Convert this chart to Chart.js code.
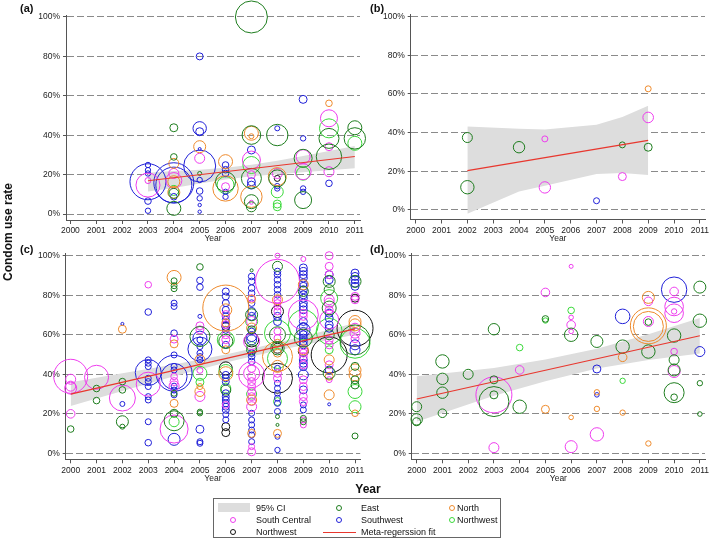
<!DOCTYPE html>
<html>
<head>
<meta charset="utf-8">
<script src="https://cdn.jsdelivr.net/npm/chart.js@4.4.1/dist/chart.umd.min.js"></script>
<style>
  body { margin: 0; background: #fff; width: 710px; height: 540px; overflow: hidden; position: relative;
         font-family: "Liberation Sans", Arial, sans-serif; color: #111; }
  canvas { position: absolute; }
  .tag { position: absolute; font-weight: bold; font-size: 11px; }
  .ytitle { position: absolute; left: 8px; top: 232px; font-weight: bold; font-size: 12px; white-space: nowrap;
            transform: translate(-50%, -50%) rotate(-90deg); }
  .xtitle { position: absolute; left: 368px; top: 489px; font-weight: bold; font-size: 12px; transform: translate(-50%, -50%); }
  #legend { position: absolute; left: 213px; top: 498px; width: 288px; height: 40px; border: 1px solid #666; box-sizing: border-box; }
  .lt { position: absolute; font-size: 9px; transform: translateY(-50%); white-space: nowrap; }
  .lc { position: absolute; width: 4px; height: 4px; border-radius: 50%; border: 1px solid; transform: translate(-50%, -50%); }
</style>
</head>
<body>
<canvas id="pa"></canvas>
<canvas id="pb"></canvas>
<canvas id="pc"></canvas>
<canvas id="pd"></canvas>

<div class="tag" style="left:20px;top:2px">(a)</div>
<div class="tag" style="left:370px;top:2px">(b)</div>
<div class="tag" style="left:20px;top:243px">(c)</div>
<div class="tag" style="left:370px;top:243px">(d)</div>
<div class="ytitle">Condom use rate</div>
<div class="xtitle">Year</div>
<div id="legend"></div>

<script>
const years = [2000, 2001, 2002, 2003, 2004, 2005, 2006, 2007, 2008, 2009, 2010, 2011];
const yTicks = [0, 20, 40, 60, 80, 100];

// region codes -> legend names / colours
const regionNames = { E: 'East', N: 'North', S: 'South Central', W: 'Southwest', L: 'Northwest', K: 'Northwest' };
const regionColors = { E: '#1e7d1e', N: '#ee8a2c', S: '#ee3cee', W: '#2020d8', L: '#3ad83a', K: '#111111' };

// studies: [region, year, condom use %, weight]
const studiesA = [
  ['W',2003,16.4,18],['S',2003,14.7,12],['W',2003,24.9,2.7],['W',2003,22.3,2.7],['W',2003,20.6,2.7],['S',2003,17,3],['W',2003,6.6,3.3],['W',2003,1.7,2.7],
  ['W',2004,15.9,20],['W',2004,14.7,18],['E',2004,43.8,4],['E',2004,29,3.3],['N',2004,25.7,5],['S',2004,17,8],['N',2004,16.4,6],['S',2004,20.6,5],['E',2004,2.9,7],['E',2004,10.5,5],['W',2004,8.8,3.3],['N',2004,11,6],['L',2004,12,5],
  ['W',2005,24.4,16],['W',2005,43.5,6.7],['W',2005,41.8,4],['W',2005,80,3.5],['N',2005,34.2,6],['S',2005,28.3,5],['W',2005,33,1.5],['W',2005,17.3,2.7],['W',2005,11.7,3.3],['W',2005,8,2.7],['W',2005,4.6,1.7],['W',2005,1.2,1.7],['E',2005,20.6,2],
  ['N',2006,26.6,7],['N',2006,13,12.7],['E',2006,16.4,10],['L',2006,14.7,8.5],['W',2006,24.9,3.3],['W',2006,20.6,3.3],['W',2006,22.5,3.3],['W',2006,11.3,2.7],['W',2006,8.8,2.7],['S',2006,13.9,4],
  ['E',2007,100,16],['E',2007,40.1,9.3],['N',2007,41,7],['N',2007,39.5,2.5],['W',2007,32.5,4],['S',2007,27.4,9],['L',2007,24.9,8.5],['E',2007,18.1,10],['W',2007,16.4,4],['W',2007,14.7,4],['N',2007,8.8,10.7],['E',2007,6.3,7],['S',2007,6,2],['E',2007,3.7,5],['S',2007,20,4],
  ['E',2008,40.1,10.7],['W',2008,43.5,2.5],['N',2008,19,9],['E',2008,18.1,8.5],['K',2008,18.1,3],['L',2008,11.3,6],['L',2008,5.1,4],['L',2008,3.7,4],['W',2008,13,2.7],['W',2008,14.2,2.7],['S',2008,20.6,5],
  ['W',2009,58.2,4],['W',2009,38.4,2.7],['E',2009,28.3,9],['S',2009,29.1,7],['S',2009,21.5,8],['L',2009,20.6,6.7],['E',2009,7.1,8.5],['W',2009,13,2.7],['W',2009,11.3,2.7],
  ['N',2010,56.2,3.3],['S',2010,48.6,8.5],['L',2010,43.5,9.5],['E',2010,38.4,10],['S',2010,34.2,4],['E',2010,29.1,12.7],['S',2010,21.5,5],['W',2010,15.6,3.3],
  ['E',2011,43.8,7],['E',2011,38.4,10.7],['L',2011,35.9,7]
];
const fitA = { years: [2003, 2011], rate: [16.9, 29.2] };
const ciA = { years: [2003,2004,2005,2006,2007,2008,2009,2010,2011],
              lower: [11.5,13.2,15.5,17.5,19.2,20.2,21.2,22.3,23.3],
              upper: [21,21.8,22.5,23.5,25,27,29.5,32,34.5] };

const studiesB = [
  ['E',2002,37.4,5],['E',2002,11.7,6.7],['E',2004,32.4,5.7],['S',2005,36.7,3],['S',2005,11.6,5.7],['W',2007,4.7,3],
  ['E',2008,33.6,3],['S',2008,17.2,4],['N',2009,62.6,3],['S',2009,47.8,5.3],['E',2009,32.4,4]
];
const fitB = { years: [2002, 2009], rate: [20.3, 35.9] };
const ciB = { years: [2002,2004,2005,2007,2008,2009],
              lower: [-2,9.5,12.5,18.6,19,18],
              upper: [43.1,42,41.5,44,48,53.8] };

const studiesC = [
  ['S',2000,39,17],['S',2000,37.5,5],['S',2000,33,6],['S',2000,34,5],['S',2000,20,4.3],['E',2000,12.3,3.3],
  ['S',2001,38.5,12],['E',2001,32.8,3.3],['E',2001,26.7,3.3],
  ['S',2002,28,13],['E',2002,36.3,3.3],['E',2002,32.1,3.3],['N',2002,62.8,4],['W',2002,65.5,1.5],['W',2002,25,2.5],['E',2002,16,6],['E',2002,13.5,2.5],
  ['W',2003,40.9,13],['S',2003,35,12],['S',2003,85.3,3.3],['W',2003,71.5,3.3],['W',2003,47.3,3],['W',2003,45.6,3],['W',2003,43.9,3],['W',2003,38,3],['W',2003,36.3,3],['W',2003,33.8,3],['W',2003,28.7,3],['W',2003,27,3],['W',2003,16,3],['W',2003,5.4,3.3],
  ['W',2004,40.5,18],['W',2004,38.9,13],['S',2004,12.3,14],['E',2004,16.5,10],['W',2004,7.1,6],['N',2004,89,7],['E',2004,87.3,3],['E',2004,84.8,3],['E',2004,83.3,3],['W',2004,76,3],['W',2004,74.3,3],['W',2004,60.8,3.3],['S',2004,57.8,4],['N',2004,55.4,4],['W',2004,49.8,3],['W',2004,44,3],['W',2004,42.2,3],['S',2004,36.3,4],['S',2004,34.1,5],['W',2004,32,3],['W',2004,29.6,3],['N',2004,25.3,4],['E',2004,20.3,4],['L',2004,16,5],['W',2004,34,3],['E',2004,30.4,3],['S',2004,38.9,3.3],
  ['W',2005,52.7,12],['W',2005,58.3,7],['E',2005,59.1,10],['L',2005,40.5,7],['E',2005,94.3,3.3],['W',2005,87.5,3.3],['W',2005,84.1,3.3],['W',2005,69.3,2],['S',2005,64.5,4],['S',2005,62.5,4],['W',2005,54,3],['W',2005,50.7,3],['W',2005,47.3,3],['N',2005,31.3,5],['N',2005,33.8,3],['S',2005,28.8,5],['E',2005,21,2.7],['E',2005,20.3,2.7],['W',2005,12.2,4],['W',2005,5.9,3],['W',2005,5.1,3],['L',2005,36,4],['S',2005,42,3],['W',2005,57.4,3],['W',2005,49,3],['N',2005,47.3,5],
  ['N',2006,73.5,23],['W',2006,81.9,3.5],['W',2006,79.4,3.5],['W',2006,76,3.5],['W',2006,72.6,3.5],['N',2006,72.6,6],['W',2006,69.3,3.5],['W',2006,67.6,3.5],['W',2006,65,3.5],['K',2006,64.2,4],['W',2006,62.5,3.5],['S',2006,60,4],['L',2006,57.4,8.5],['E',2006,56.7,7],['W',2006,54.9,3.5],['N',2006,52.4,4],['S',2006,57.5,4],['K',2006,43,6.5],['N',2006,40.3,7],['L',2006,41.4,7],['W',2006,39.7,3.5],['W',2006,38,3.5],['W',2006,36.3,3.5],['L',2006,33,5],['E',2006,32,5],['W',2006,30.4,3.5],['W',2006,28.7,3.5],['W',2006,27,3.5],['W',2006,25.3,3.5],['W',2006,23.6,3.5],['S',2006,24.5,3.5],['W',2006,22,3.5],['W',2006,19.6,3],['W',2006,17,3],['K',2006,13.5,4],['K',2006,10.5,4],['N',2006,66,4],['S',2006,70.2,4],['S',2006,65.1,4],
  ['E',2007,92.6,1.5],['W',2007,89.5,3.3],['W',2007,87,3.3],['W',2007,83.6,3.3],['W',2007,81,3.3],['S',2007,78.5,3.5],['W',2007,76,3.3],['E',2007,70.1,6],['W',2007,71.8,4],['W',2007,69.3,4],['S',2007,66.7,5],['L',2007,66.8,6],['E',2007,62.5,4],['N',2007,63.4,5],['W',2007,59.1,5],['W',2007,57.4,5],['K',2007,57.4,7],['S',2007,56.6,8],['L',2007,54,5],['E',2007,52.4,5],['W',2007,50.7,3.3],['W',2007,49,3.3],['W',2007,46.5,3.3],['S',2007,43,4],['S',2007,40.5,8],['S',2007,39.8,13],['S',2007,38.9,4],['S',2007,36.3,4],['S',2007,33.8,4],['S',2007,31.3,4],['S',2007,28.7,4],['N',2007,27,5],['S',2007,26.2,4],['S',2007,23.6,5],['W',2007,20.3,3],['W',2007,16.9,3],['W',2007,14.4,3],['W',2007,11.8,3],['N',2007,10.1,4],['W',2007,9.3,3],['W',2007,5.9,3],['S',2007,3.4,3],['S',2007,0.8,4],['N',2007,78,4],['L',2007,30,5],['W',2007,61.7,3.3],
  ['S',2008,87,22],['S',2008,100,2.5],['E',2008,94.6,5],['W',2008,92,3.3],['W',2008,90.4,3.3],['W',2008,87.8,3.3],['W',2008,85.3,3.3],['W',2008,82.8,3.3],['W',2008,80.2,3.3],['N',2008,77.7,5],['S',2008,77.7,3.5],['S',2008,76,3.5],['S',2008,74.3,3.5],['K',2008,71.8,6],['S',2008,71.8,3.5],['W',2008,69.3,4],['W',2008,66.7,4],['L',2008,60.8,13],['E',2008,60,8],['S',2008,61.7,3.5],['S',2008,58.3,3.5],['N',2008,49,15],['E',2008,53.2,6.7],['K',2008,53.2,5],['N',2008,55.7,4],['N',2008,50.7,4],['L',2008,48,10],['K',2008,38,15],['S',2008,40.5,4],['S',2008,38,4],['W',2008,35.5,3],['W',2008,32.9,3],['W',2008,30.4,3],['W',2008,27.9,3],['W',2008,25.3,3],['L',2008,26.2,4],['E',2008,18.6,2],['E',2008,14.4,1.5],['N',2008,10.1,4],['W',2008,8.4,2.5],['W',2008,1.7,2.7],['N',2008,44,6],['W',2008,43,3],['W',2008,21.2,3],
  ['S',2009,98.3,2.5],['W',2009,93.8,4],['W',2009,92,4],['W',2009,90.4,4],['W',2009,88.7,4],['N',2009,85.3,5],['W',2009,86.1,4],['W',2009,84.5,4],['E',2009,81.9,5],['W',2009,82.8,4],['W',2009,80.2,4],['W',2009,78.5,4],['W',2009,76,4],['W',2009,74.3,4],['W',2009,72.6,4],['S',2009,70.9,4],['S',2009,69.3,4],['S',2009,70.1,15],['L',2009,65,15],['W',2009,62.5,6.7],['W',2009,66.7,4],['W',2009,64.2,4],['W',2009,61.7,4],['W',2009,60,4],['W',2009,58.3,4],['W',2009,56.6,4],['W',2009,54.9,4],['E',2009,58.3,9],['N',2009,52.4,5],['K',2009,51.6,5],['S',2009,52.4,4],['S',2009,50.7,4],['S',2009,49,4],['W',2009,47.3,4],['W',2009,45.6,4],['W',2009,43.9,4],['S',2009,44.8,4],['W',2009,39.7,5],['S',2009,37.2,4],['S',2009,33.8,4],['W',2009,32.1,4],['S',2009,28.7,4],['S',2009,26.2,4],['W',2009,24.5,3],['W',2009,22,3],['E',2009,17.7,3],['E',2009,16,3],['S',2009,16.9,3],['S',2009,14.4,3],
  ['S',2010,100,4],['S',2010,94.6,4],['S',2010,90.4,4],['E',2010,87,6],['W',2010,90.4,4],['W',2010,87.8,4],['E',2010,82.8,5],['L',2010,78.5,8.5],['S',2010,77.7,5],['S',2010,76,5],['S',2010,72.6,4],['W',2010,70.9,4],['W',2010,68.4,4],['S',2010,67.6,9.5],['L',2010,61.7,13],['W',2010,65,4],['W',2010,63.3,4],['E',2010,60,5],['S',2010,57.4,4],['S',2010,54.9,4],['K',2010,49.8,18],['L',2010,52.4,4],['N',2010,47.3,5],['S',2010,44.8,4],['W',2010,42.2,4],['E',2010,40.6,6],['N',2010,39,4],['S',2010,37.3,3],['N',2010,29.6,5],['W',2010,24.8,1.5],['E',2010,73.5,7],
  ['W',2011,91.2,4],['W',2011,89.5,4],['W',2011,87.8,4],['W',2011,86.1,4],['W',2011,84.5,4],['E',2011,87,6],['S',2011,79.4,4],['S',2011,77.7,4],['K',2011,78.5,4],['K',2011,63.3,18],['N',2011,66.7,6],['N',2011,65,6],['S',2011,63.3,5],['S',2011,60.8,5],['E',2011,57.4,15],['L',2011,55.7,15],['W',2011,54.9,5],['W',2011,52.4,5],['N',2011,42.2,6],['N',2011,39.7,6],['E',2011,37.2,4],['E',2011,34.6,4],['L',2011,31.3,7],['L',2011,23.6,6],['N',2011,20.3,3.3],['E',2011,8.8,3],['S',2011,58,4],['E',2011,44,4]
];
const fitC = { years: [2000, 2011], rate: [30, 63] };
const ciC = { years: [2000,2002,2004,2006,2008,2010,2011],
              lower: [24,31.5,39,46,52,57.5,60],
              upper: [36,40.5,45,50,56,62.5,66] };

const studiesD = [
  ['E',2000,23.6,5],['E',2000,17.2,5.7],['E',2000,16,4],
  ['E',2001,46.5,6.7],['E',2001,37.7,5.7],['E',2001,30.7,5.7],['E',2001,20.3,4.3],
  ['E',2002,40,5],
  ['S',2003,29.6,18],['E',2003,26.2,15],['E',2003,62.8,5.7],['E',2003,37.2,4],['E',2003,29.6,4],['S',2003,2.9,5],
  ['L',2004,53.5,3.3],['S',2004,42.2,4.3],['E',2004,23.6,6.7],
  ['S',2005,81.4,4.3],['E',2005,68,3.3],['L',2005,67.2,2.7],['N',2005,22.3,4],
  ['S',2006,94.6,2],['L',2006,72.3,3.3],['S',2006,68.8,2.3],['S',2006,65,4.3],['S',2006,61.7,2.3],['E',2006,60,6.7],['N',2006,18.2,2.3],['S',2006,3.4,6],
  ['E',2007,56.6,6],['W',2007,42.7,4],['N',2007,30.9,2.7],['W',2007,29.6,2.3],['N',2007,22.5,2.7],['S',2007,9.6,6.7],
  ['W',2008,69.3,7.3],['E',2008,54,6.7],['N',2008,48.6,4.3],['L',2008,36.7,2.7],['N',2008,20.6,2.7],
  ['N',2009,78.9,6],['S',2009,76.9,4.3],['N',2009,64.5,18],['N',2009,64.2,15],['S',2009,66.7,5],['E',2009,66.4,3.3],['E',2009,51.5,6.7],['N',2009,5,2.7],
  ['W',2010,82.8,12.7],['S',2010,81.9,4.3],['S',2010,74.3,9.3],['S',2010,70.9,9.3],['S',2010,71.8,2.7],['E',2010,59.6,6.7],['S',2010,51.5,3.3],['E',2010,47.3,5],['S',2010,41.4,6],['E',2010,42.2,6],['E',2010,30.7,10],['E',2010,28.4,3.3],
  ['E',2011,84.1,6],['E',2011,67.1,6.7],['W',2011,51.5,5],['E',2011,35.5,2.7],['E',2011,19.9,2.3]
];
const fitD = { years: [2000, 2011], rate: [27.5, 59.5] };
const ciD = { years: [2000,2003,2005,2007,2009,2011],
              lower: [16,29.2,36.5,42.9,47.2,50.5],
              upper: [39,43.2,47.5,52.9,60.2,68.5] };

Chart.defaults.font.family = '"Liberation Sans", Arial, sans-serif';
Chart.defaults.color = '#222';

const Y_W = 40, X_H = 24;

function drawPanel(id, studies, fit, ci, cvBox, area, xr, yr) {
  const cv = document.getElementById(id);
  cv.width = cvBox.w; cv.height = cvBox.h;
  cv.style.left = cvBox.left + 'px'; cv.style.top = cvBox.top + 'px';

  const datasets = [];
  datasets.push({ type: 'line', data: ci.years.map((x, i) => ({ x, y: ci.lower[i] })),
    borderColor: 'rgba(0,0,0,0)', pointRadius: 0, fill: false, order: 10 });
  datasets.push({ type: 'line', data: ci.years.map((x, i) => ({ x, y: ci.upper[i] })),
    borderColor: 'rgba(0,0,0,0)', pointRadius: 0, fill: '-1', backgroundColor: '#dddddd', order: 10 });
  Object.keys(regionColors).forEach(k => {
    const pts = studies.filter(s => s[0] === k).map(s => ({ x: s[1], y: s[2], r: s[3] }));
    if (pts.length) datasets.push({ type: 'bubble', label: regionNames[k], data: pts,
      borderColor: regionColors[k], backgroundColor: 'rgba(0,0,0,0)', borderWidth: 1, clip: false, order: 5 });
  });
  datasets.push({ type: 'line', data: fit.years.map((x, i) => ({ x, y: fit.rate[i] })),
    borderColor: '#e8372e', borderWidth: 1.2, pointRadius: 0, fill: false, order: 0 });

  new Chart(cv, {
    type: 'bubble',
    data: { datasets },
    options: {
      responsive: false, animation: false, devicePixelRatio: 1, events: [],
      layout: { autoPadding: false, padding: {
        left: area.l - cvBox.left - Y_W, top: area.t - cvBox.top,
        right: cvBox.left + cvBox.w - area.r, bottom: cvBox.top + cvBox.h - area.b - X_H } },
      plugins: { legend: { display: false }, tooltip: { enabled: false } },
      scales: {
        x: {
          type: 'linear', min: xr[0], max: xr[1],
          afterBuildTicks: s => { s.ticks = years.map(v => ({ value: v })); },
          afterFit: s => { s.height = X_H; },
          ticks: { callback: v => String(v), font: { size: 8.5 }, color: '#222', maxRotation: 0, autoSkip: false, padding: 2 },
          grid: { drawOnChartArea: false, tickLength: 4, color: '#555' },
          border: { color: '#555' },
          title: { display: true, text: 'Year', font: { size: 8.5 }, padding: 0, color: '#222' }
        },
        y: {
          min: yr[0], max: yr[1],
          afterBuildTicks: s => { s.ticks = yTicks.map(v => ({ value: v })); },
          afterFit: s => { s.width = Y_W; },
          ticks: { callback: v => v + '%', font: { size: 8.5 }, color: '#222', padding: 3 },
          grid: { color: '#8a8a8a', tickLength: 3, tickColor: '#555' },
          border: { color: '#555', dash: [7, 3] }
        }
      }
    }
  });
}

drawPanel('pa', studiesA, fitA, ciA, { left: 0, top: 0, w: 375, h: 252 }, { l: 66, t: 15, r: 360, b: 220 }, [1999.83, 2011.2], [-3, 101]);
drawPanel('pb', studiesB, fitB, ciB, { left: 355, top: 0, w: 357, h: 252 }, { l: 410.7, t: 14.6, r: 705, b: 219.5 }, [1999.806, 2011.2], [-5, 101]);
drawPanel('pc', studiesC, fitC, ciC, { left: 0, top: 240, w: 375, h: 250 }, { l: 65.7, t: 253.7, r: 360.2, b: 459.3 }, [1999.807, 2011.2], [-3, 101]);
drawPanel('pd', studiesD, fitD, ciD, { left: 355, top: 240, w: 357, h: 250 }, { l: 411.7, t: 253.7, r: 705, b: 459.3 }, [1999.806, 2011.2], [-3, 101]);

// legend (3 rows x 3 columns)
const legendItems = [
  { kind: 'rect', text: '95% CI', sx: 4, tx: 42, y: 8.5 },
  { kind: 'circle', code: 'E', sx: 125, tx: 147, y: 8.5 },
  { kind: 'circle', code: 'N', sx: 238, tx: 243, y: 8.5 },
  { kind: 'circle', code: 'S', sx: 18.5, tx: 42, y: 21 },
  { kind: 'circle', code: 'W', sx: 125, tx: 147, y: 21 },
  { kind: 'circle', code: 'L', sx: 238, tx: 243, y: 21 },
  { kind: 'circle', code: 'K', sx: 18.5, tx: 42, y: 33 },
  { kind: 'line', text: 'Meta-regerssion fit', sx: 108.5, tx: 147, y: 33 }
];
const lg = document.getElementById('legend');
legendItems.forEach(it => {
  const sym = document.createElement('div');
  if (it.kind === 'rect') {
    sym.style.cssText = `position:absolute;left:${it.sx}px;top:${it.y - 4.5}px;width:32px;height:9px;background:#dddddd`;
  } else if (it.kind === 'line') {
    sym.style.cssText = `position:absolute;left:${it.sx}px;top:${it.y - 0.5}px;width:33px;height:1.2px;background:#e8372e`;
  } else {
    sym.className = 'lc';
    sym.style.left = it.sx + 'px'; sym.style.top = it.y + 'px';
    sym.style.borderColor = regionColors[it.code];
  }
  lg.appendChild(sym);
  const t = document.createElement('div');
  t.className = 'lt';
  t.style.left = it.tx + 'px'; t.style.top = it.y + 'px';
  t.textContent = it.text || regionNames[it.code];
  lg.appendChild(t);
});
</script>
</body>
</html>
